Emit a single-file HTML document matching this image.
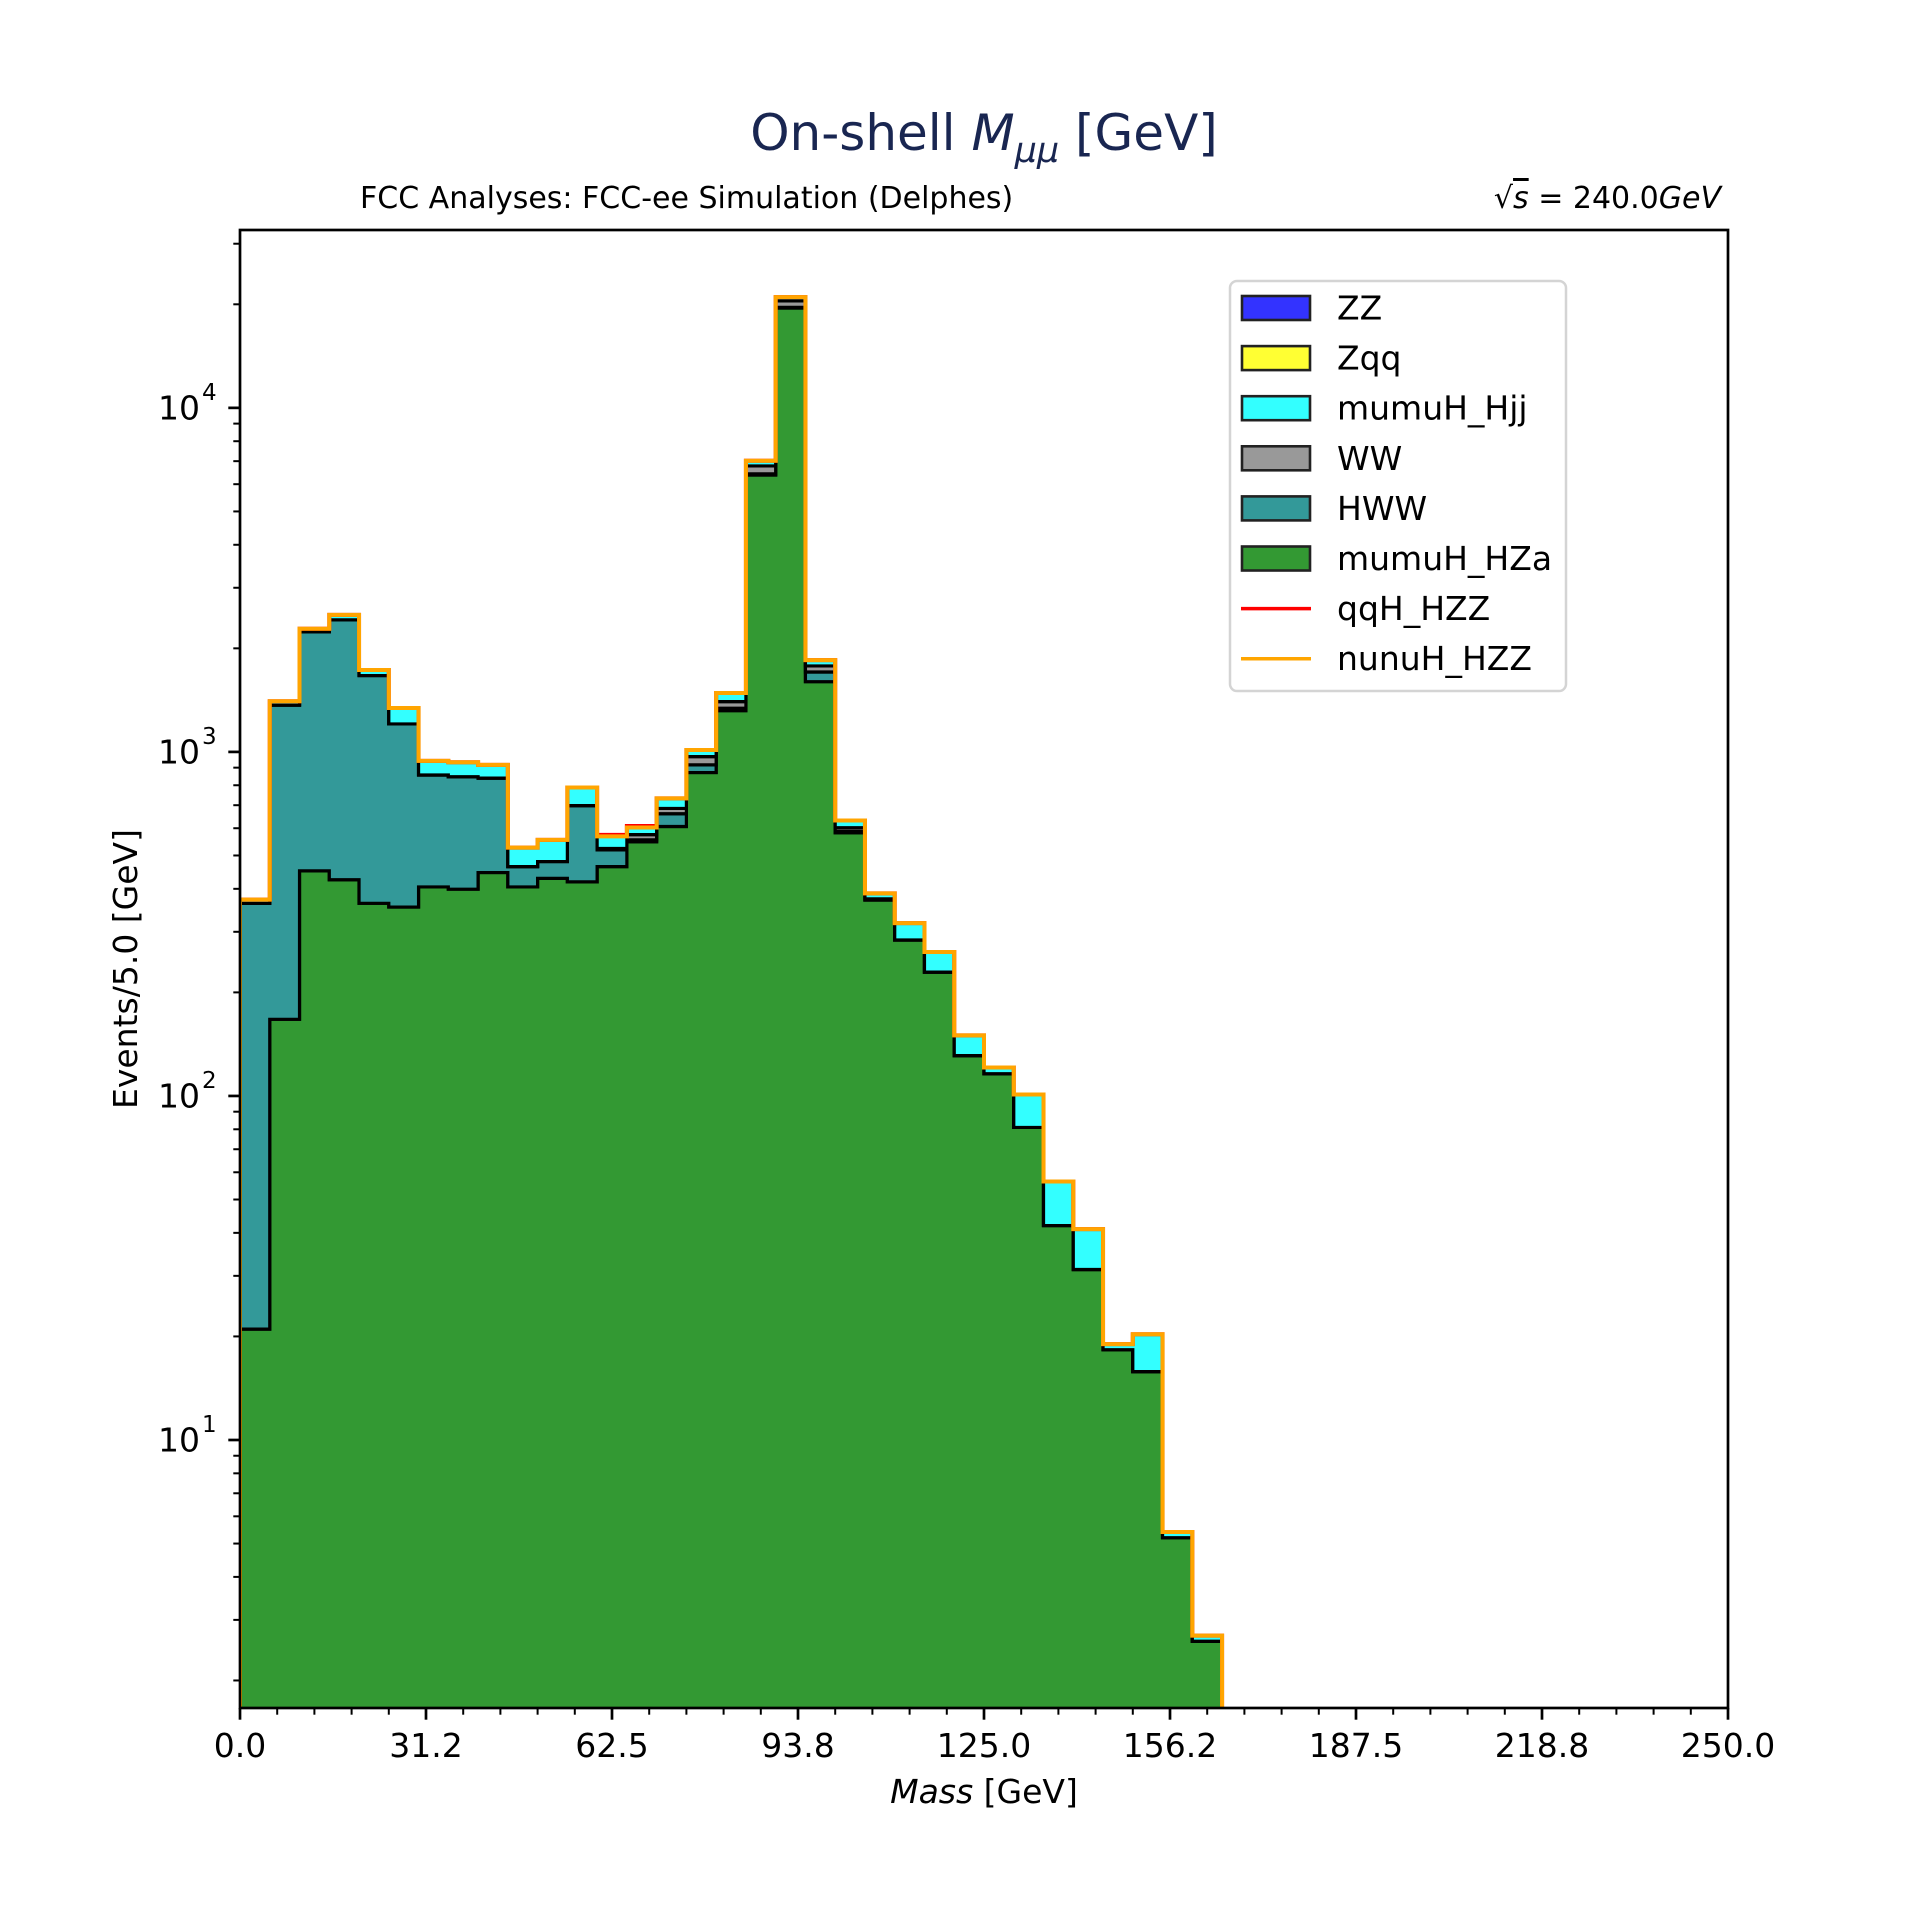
<!DOCTYPE html>
<html><head><meta charset="utf-8"><style>
html,body{margin:0;padding:0;background:#fff}
svg{display:block}
text{font-family:"DejaVu Sans","Liberation Sans",sans-serif}
</style></head><body>
<svg id="chart" xmlns="http://www.w3.org/2000/svg" width="1920" height="1920" viewBox="0 0 1920 1920">
<rect x="0" y="0" width="1920" height="1920" fill="#fff"/>
<defs><clipPath id="axclip"><rect x="240" y="230" width="1488" height="1478"/></clipPath></defs>
<text x="984" y="150" text-anchor="middle" font-size="50" fill="#192651">On-shell <tspan font-style="italic">M</tspan><tspan font-style="italic" font-size="35" dy="12">μμ</tspan><tspan dy="-12"> [GeV]</tspan></text>
<text x="360" y="208" font-size="30" fill="#000">FCC Analyses: FCC-ee Simulation (Delphes)</text>
<text x="1721" y="208" text-anchor="end" font-size="30" fill="#000">√<tspan font-style="italic" text-decoration="overline">s</tspan> = 240.0<tspan font-style="italic">GeV</tspan></text>
<g id="plot" clip-path="url(#axclip)"></g>
<g id="axes"></g>
<text x="984" y="1803" text-anchor="middle" font-size="33"><tspan font-style="italic">Mass</tspan> [GeV]</text>
<text x="0" y="0" text-anchor="middle" font-size="33" transform="translate(137,969) rotate(-90)">Events/5.0 [GeV]</text>
<g id="legend">
<rect x="1230" y="281" width="336" height="410" rx="7" fill="#fff" fill-opacity="0.8" stroke="#d4d4d4" stroke-width="2.5"/>
</g>
</svg>
<script>
// ---- data (events per 5 GeV bin, bins starting at 0 GeV) ----
const binWidth = 5;
const nBins = 50;
const mumuH_HZa = [21,167,451,425,363,354,405,399,446,405,429,419,464,548,607,871,1318,6380,19500,1600,582,371,284,229,131,116,81,42,31.3,18.3,15.8,5.2,2.6];
const HWW = [342,1200,1783,1996,1304,852,452,448,393,59,51,279,55,7,54,46,22,50,100,107,5];
const WW = [0,0,0,0,0,0,0,0,0,0,0,0,5,20,24,52,60,350,860,71,15,3];
const mumuH_Hjj = [9,37,46,81,63,136,85,86,78,63,75,90,44,28,48,44,83,237,530,71,30,14,34,33,19,5,20,14.4,9.7,0.7,4.5,0.2,0.1];
const Zqq = [];
const ZZ = [];
const qqH_HZZ = [0,0,0,0,0,0,0,0,0,0,0,0,6,6];
const nunuH_HZZ = [];
const xTickLabels = ["0.0","31.2","62.5","93.8","125.0","156.2","187.5","218.8","250.0"];
const yTickLabels = ["1","2","3","4"];

const X0=240,X1=1728,Y0=230,Y1=1708,LMIN=0.221,LMAX=4.517,XMAX=250;
const NS="http://www.w3.org/2000/svg";
function xs(v){return X0+(v/XMAX)*(X1-X0);}
function ys(v){ if(!(v>0)) return Y1+6; return Y1-(Math.log10(v)-LMIN)/(LMAX-LMIN)*(Y1-Y0);}
function val(a,i){return (i<a.length&&a[i])?a[i]:0;}
function mk(tag,attrs,parent){const e=document.createElementNS(NS,tag);for(const k in attrs)e.setAttribute(k,attrs[k]);parent.appendChild(e);return e;}

const plot=document.getElementById('plot');
const axes=document.getElementById('axes');
const legend=document.getElementById('legend');

const layers=[
 {name:'mumuH_HZa',data:mumuH_HZa,color:'#339933'},
 {name:'HWW',data:HWW,color:'#339999'},
 {name:'WW',data:WW,color:'#999999'},
 {name:'mumuH_Hjj',data:mumuH_Hjj,color:'#33ffff'},
 {name:'Zqq',data:Zqq,color:'#ffff33'},
 {name:'ZZ',data:ZZ,color:'#3333ff'}
];
let lower=new Array(nBins).fill(0);
layers.forEach(L=>{
  const upper=lower.map((v,i)=>v+val(L.data,i));
  let d='M'+xs(0)+','+ys(lower[0]);
  for(let i=0;i<nBins;i++){d+=' L'+xs(i*binWidth)+','+ys(upper[i])+' L'+xs((i+1)*binWidth)+','+ys(upper[i]);}
  for(let i=nBins-1;i>=0;i--){d+=' L'+xs((i+1)*binWidth)+','+ys(lower[i])+' L'+xs(i*binWidth)+','+ys(lower[i]);}
  d+=' Z';
  const p=mk('path',{d:d,fill:L.color,stroke:'#000','stroke-width':3.2,'stroke-linejoin':'miter'},plot);
  
  
  lower=upper;
});
const total=lower;
function stepLine(arr,color,name){
  let d='M'+xs(0)+','+ys(0);
  for(let i=0;i<nBins;i++){d+=' L'+xs(i*binWidth)+','+ys(arr[i])+' L'+xs((i+1)*binWidth)+','+ys(arr[i]);}
  d+=' L'+xs(XMAX)+','+ys(0);
  const p=mk('path',{d:d,fill:'none',stroke:color,'stroke-width':4,'stroke-linejoin':'miter'},plot);
  
  
}
stepLine(total.map((v,i)=>v+val(qqH_HZZ,i)),'#ff0000','line-qqh-hzz');
stepLine(total.map((v,i)=>v+val(nunuH_HZZ,i)),'#ffa500','line-nunuh-hzz');

const frame=mk('rect',{x:X0,y:Y0,width:X1-X0,height:Y1-Y0,fill:'none',stroke:'#000','stroke-width':2.7},axes);



for(let k=0;k<=40;k++){
  const v=k*6.25, x=xs(v), major=(k%5===0);
  mk('line',{x1:x,y1:Y1,x2:x,y2:Y1+(major?11.7:6.7),stroke:'#000','stroke-width':major?2.7:2},axes);
}
xTickLabels.forEach((lab,i)=>{
  const t=mk('text',{x:xs(i*31.25),y:1757,'text-anchor':'middle','font-size':33},axes);
  t.textContent=lab;
  
  
});
for(let dec=0;dec<=4;dec++){
  for(let m=1;m<=9;m++){
    const v=m*Math.pow(10,dec), lv=Math.log10(v);
    if(lv<LMIN||lv>LMAX) continue;
    const y=ys(v), major=(m===1);
    mk('line',{x1:X0,y1:y,x2:X0-(major?11.7:6.7),y2:y,stroke:'#000','stroke-width':major?2.7:2},axes);
  }
}
yTickLabels.forEach(exp=>{
  const y=ys(Math.pow(10,+exp));
  const t=mk('text',{x:200,y:y+11.5,'text-anchor':'end','font-size':33},axes);
  t.textContent='10';
  
  
  const s=mk('text',{x:202,y:y-8,'text-anchor':'start','font-size':23},axes);
  s.textContent=exp;
  
  
});

const legItems=[
 {label:'ZZ',color:'#3333ff',type:'patch'},
 {label:'Zqq',color:'#ffff33',type:'patch'},
 {label:'mumuH_Hjj',color:'#33ffff',type:'patch'},
 {label:'WW',color:'#999999',type:'patch'},
 {label:'HWW',color:'#339999',type:'patch'},
 {label:'mumuH_HZa',color:'#339933',type:'patch'},
 {label:'qqH_HZZ',color:'#ff0000',type:'line'},
 {label:'nunuH_HZZ',color:'#ffa500',type:'line'}
];
legItems.forEach((it,i)=>{
  const cy=308+i*50.1;
  const g=mk('g',{},legend);
  
  
  if(it.type==='patch'){
    mk('rect',{x:1242,y:cy-12,width:68,height:24,fill:it.color,stroke:'#222','stroke-width':2.6},g);
  } else {
    mk('line',{x1:1241,y1:cy,x2:1311,y2:cy,stroke:it.color,'stroke-width':3.5},g);
  }
  const t=mk('text',{x:1337,y:cy+11.5,'font-size':33},g);
  t.textContent=it.label;
});
</script>
</body></html>
